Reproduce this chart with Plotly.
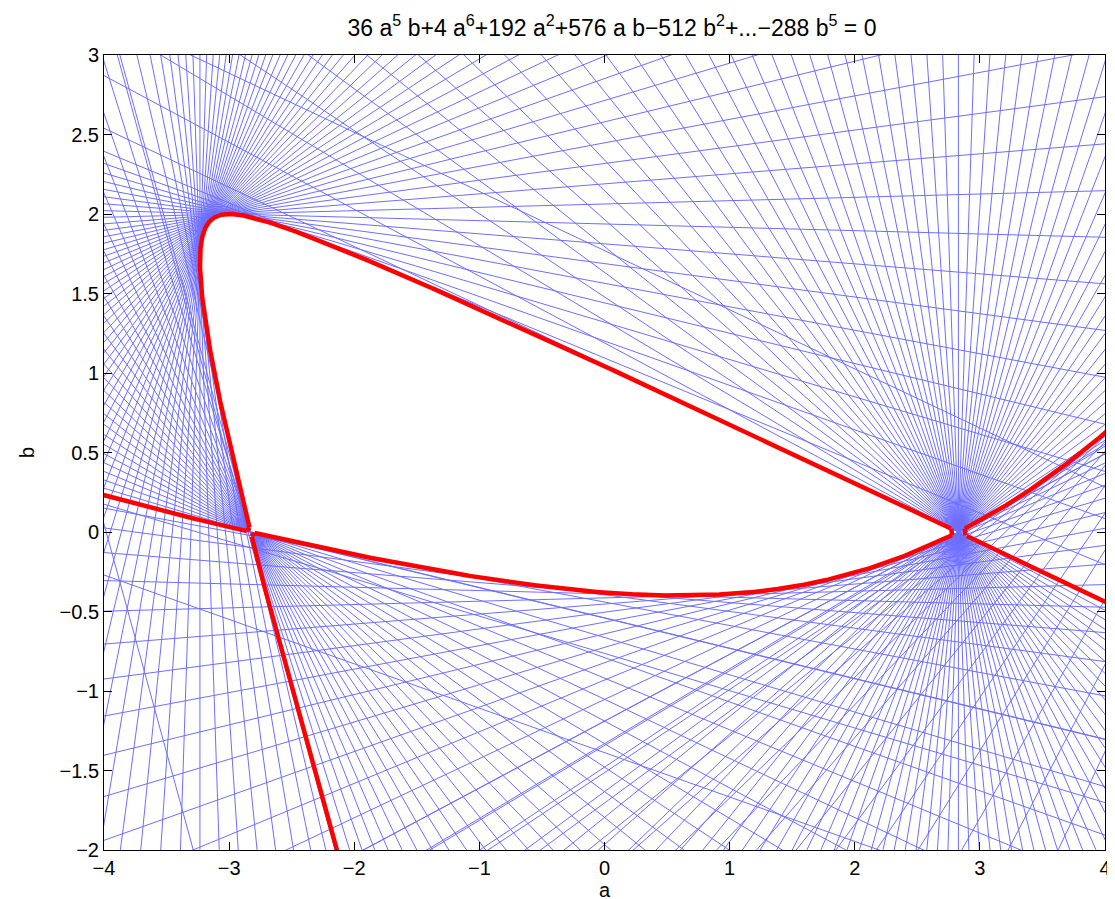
import numpy as np
import plotly.graph_objects as go

# Quartic family P(t; a, b) = t^4 + a t^3 + 2 b t^2 - (a + 3 b) t + 1   (red: its discriminant = 0)
COEF_A = [0, 1, 0, -1, 0]          # coefficient of a, powers t^4..t^0
COEF_B = [0, 0, 2, -3, 0]          # coefficient of b
COEF_C = [1, 0, 0, 0, 1]           # constant part

# blue tangent lines: one per direction on a 2.4 degree grid
ANGLE_STEP_DEG = 2.4
ANGLE_OFFSET_DEG = 1.2
# singular points of the curve (pencils of lines through them) and the gap the red curve shows there
NODE_A = [2.8284, -2.8284]
NODE_B = [0.0, 0.0]
NODE_GAP = [0.055, 0.03]

X_RANGE = [-4, 4]
Y_RANGE = [-2, 3]
X_TICKS = [-4, -3, -2, -1, 0, 1, 2, 3, 4]
Y_TICKS = [-2, -1.5, -1, -0.5, 0, 0.5, 1, 1.5, 2, 2.5, 3]
TITLE = ("36 a<sup>5</sup> b+4 a<sup>6</sup>+192 a<sup>2</sup>+576 a b\u2212512 b<sup>2</sup>"
         "+...\u2212288 b<sup>5</sup> = 0")

pa, pb, pc = np.poly1d(COEF_A), np.poly1d(COEF_B), np.poly1d(COEF_C)
da, db, dc = pa.deriv(), pb.deriv(), pc.deriv()


def line_angle(t):
    """direction angle (0..180 deg) of the line P(t; a, b) = 0"""
    A, B = pa(t), pb(t)
    return np.degrees(np.arctan2(-A, B)) % 180.0


def line_xy(A, B, C):
    big = 60.0
    if abs(B) >= abs(A):
        xs = np.array([-big, big]); ys = -(A * xs + C) / B
    else:
        ys = np.array([-big, big]); xs = -(B * ys + C) / A
    return xs, ys


def envelope(t):
    A, B, C = pa(t), pb(t), pc(t)
    Ad, Bd, Cd = da(t), db(t), dc(t)
    det = A * Bd - B * Ad
    with np.errstate(divide="ignore", invalid="ignore"):
        return (-C * Bd + B * Cd) / det, (-A * Cd + C * Ad) / det


def node_roots(xa, yb):
    poly = pc + xa * pa + yb * pb
    tr = []
    for t in np.roots(poly.coeffs):
        if abs(t.imag) < 1e-2 and all(abs(t.real - u) > 1e-2 for u in tr):
            tr.append(t.real)
    return tr


angles = np.arange(ANGLE_OFFSET_DEG, 180.0, ANGLE_STEP_DEG)

# ---- blue lines
lx, ly = [], []
for th in angles:
    r = np.radians(th)
    # direction angle th  <=>  cos(th) t^2 + 2 sin(th) t - (3 sin(th) + cos(th)) = 0
    roots = np.roots([np.cos(r), 2 * np.sin(r), -(3 * np.sin(r) + np.cos(r))])
    for t in roots:
        if abs(t.imag) > 1e-9 or abs(t.real) < 1e-9:
            continue
        t = t.real
        xs, ys = line_xy(pa(t), pb(t), pc(t))
        lx += [xs[0], xs[1], None]; ly += [ys[0], ys[1], None]

for xa, yb in zip(NODE_A, NODE_B):
    tr = node_roots(xa, yb)
    if len(tr) < 2:
        continue
    th1, th2 = sorted(line_angle(t) for t in tr[:2])
    for th in angles:
        if th1 < th < th2:
            r = np.radians(th)
            d = 60.0
            lx += [xa - d * np.cos(r), xa + d * np.cos(r), None]
            ly += [yb - d * np.sin(r), yb + d * np.sin(r), None]

# ---- red envelope, broken at the singular points like the reference
ts = np.linspace(-40, 40, 400001)
ea, eb = envelope(ts)
ok = np.isfinite(ea) & np.isfinite(eb) & (np.abs(ea) < 30) & (np.abs(eb) < 30)
for xa, yb, g in zip(NODE_A, NODE_B, NODE_GAP):
    ok &= np.hypot(ea - xa, eb - yb) > g
rx, ry = [], []
prev = False
for x, y, k in zip(ea, eb, ok):
    if k:
        rx.append(x); ry.append(y)
    elif prev:
        rx.append(None); ry.append(None)
    prev = k


def branch_end(t0, direction, xa, yb, g):
    t = t0
    step = 1e-4 * direction
    for _ in range(200000):
        t += step
        x, y = envelope(t)
        if np.hypot(x - xa, y - yb) > g:
            return x, y
    return x, y


# short joins across each gap (right: loop tip and right branch tip; left: two corners)
for (xa, yb, g) in zip(NODE_A, NODE_B, NODE_GAP):
    tr = sorted(node_roots(xa, yb))
    if len(tr) < 2:
        continue
    t_lo, t_hi = tr[0], tr[1]
    ends = {(t0, s): branch_end(t0, s, xa, yb, g) for t0 in (t_lo, t_hi) for s in (-1, 1)}
    if xa > 0:
        pairs = [((t_lo, 1), (t_hi, 1)), ((t_lo, -1), (t_hi, -1))]
    else:
        pairs = [((t_lo, 1), (t_hi, -1)), ((t_lo, -1), (t_hi, 1))]
    for p, q in pairs:
        rx += [ends[p][0], ends[q][0], None]
        ry += [ends[p][1], ends[q][1], None]

fig = go.Figure()
fig.add_trace(go.Scatter(x=lx, y=ly, mode="lines", line=dict(color="rgb(110,110,255)", width=1),
                         hoverinfo="skip", showlegend=False))
fig.add_trace(go.Scatter(x=rx, y=ry, mode="lines", line=dict(color="rgb(255,0,0)", width=4.5),
                         hoverinfo="skip", showlegend=False))

FONT = "Liberation Sans"
axis_common = dict(showgrid=False, zeroline=False, showline=True, linecolor="black",
                   linewidth=1, mirror="ticks", ticks="inside", ticklen=8,
                   tickcolor="black", tickfont=dict(family=FONT, size=20, color="black"))
fig.update_xaxes(range=X_RANGE, tickvals=X_TICKS,
                 ticktext=[str(v).replace("-", "\u2212") for v in X_TICKS],
                 title=dict(text="a", font=dict(family=FONT, size=20, color="black"), standoff=2),
                 **axis_common)
fig.update_yaxes(range=Y_RANGE, tickvals=Y_TICKS,
                 ticktext=[(str(int(v)) if float(v).is_integer() else str(v)).replace("-", "\u2212")
                           for v in Y_TICKS],
                 title=dict(text="b", font=dict(family=FONT, size=20, color="black"), standoff=19),
                 **axis_common)
fig.update_layout(width=1115, height=899, plot_bgcolor="white", paper_bgcolor="white",
                  margin=dict(l=96, r=12, t=47, b=48),
                  title=dict(text=TITLE, xref="paper", x=0.5075, xanchor="center",
                             yref="container", y=0.978, yanchor="middle",
                             font=dict(family=FONT, size=23, color="black")))
fig.write_html("out.html")
